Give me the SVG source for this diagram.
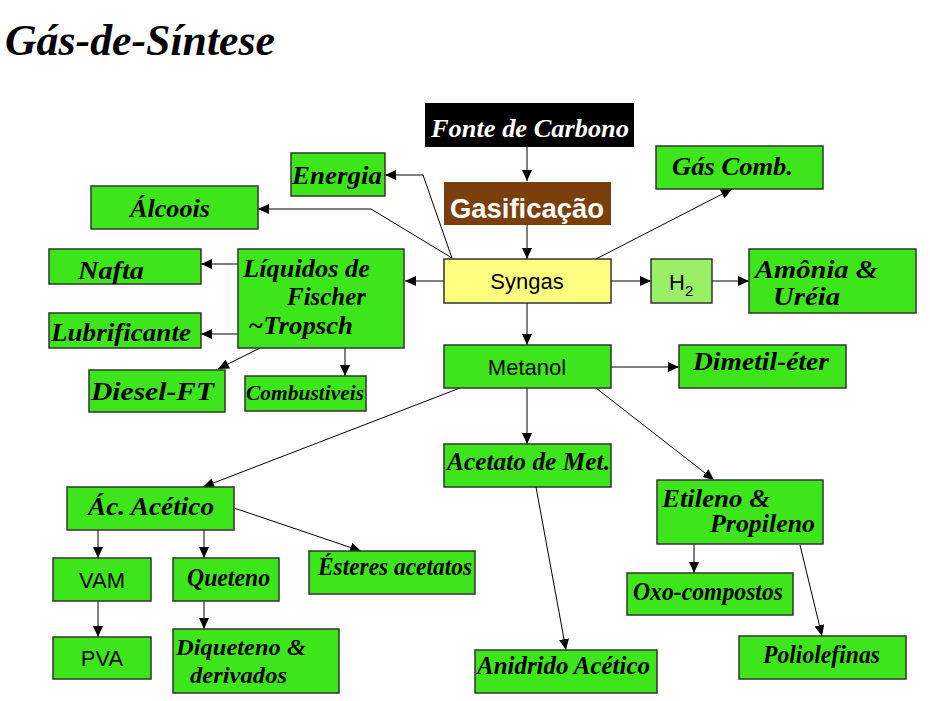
<svg xmlns="http://www.w3.org/2000/svg" width="930" height="701" viewBox="0 0 930 701">
<defs>
<style>
.bx{fill:#3ce61a;stroke:#333;stroke-width:1.5}
.sc{font-family:"Liberation Serif","DejaVu Serif",serif;font-style:italic;font-weight:bold;font-size:26px;fill:#000}
.sn{font-family:"Liberation Sans",Arial,sans-serif;font-size:22px;fill:#000;text-anchor:middle}
.ln{fill:none;stroke:#000;stroke-width:1}
</style>
<marker id="ah" markerUnits="userSpaceOnUse" markerWidth="12" markerHeight="10" refX="11" refY="5" orient="auto">
<path d="M0,0 L11,5 L0,10 Z" fill="#000"/>
</marker>
</defs>
<rect width="930" height="701" fill="#fff"/>
<text x="5" y="55" class="sc" style="font-size:44px" textLength="270" lengthAdjust="spacingAndGlyphs">Gás-de-Síntese</text>

<g id="connectors">
<line class="ln" x1="527" y1="147" x2="527" y2="181" marker-end="url(#ah)"/>
<line class="ln" x1="527" y1="225" x2="527" y2="259" marker-end="url(#ah)"/>
<polyline class="ln" points="452,258 423,175 385,175" marker-end="url(#ah)"/>
<polyline class="ln" points="452,258 371,209 258,209" marker-end="url(#ah)"/>
<line class="ln" x1="444" y1="281" x2="405" y2="281" marker-end="url(#ah)"/>
<line class="ln" x1="596" y1="259" x2="732" y2="189" marker-end="url(#ah)"/>
<line class="ln" x1="611" y1="281" x2="651" y2="281" marker-end="url(#ah)"/>
<line class="ln" x1="712" y1="281" x2="749" y2="281" marker-end="url(#ah)"/>
<line class="ln" x1="527" y1="303" x2="527" y2="345" marker-end="url(#ah)"/>
<line class="ln" x1="238" y1="264" x2="201" y2="264" marker-end="url(#ah)"/>
<line class="ln" x1="238" y1="334" x2="201" y2="334" marker-end="url(#ah)"/>
<line class="ln" x1="260" y1="348" x2="218" y2="369" marker-end="url(#ah)"/>
<line class="ln" x1="345" y1="348" x2="345" y2="376" marker-end="url(#ah)"/>
<line class="ln" x1="611" y1="367" x2="679" y2="367" marker-end="url(#ah)"/>
<line class="ln" x1="460" y1="388" x2="203" y2="487" marker-end="url(#ah)"/>
<line class="ln" x1="527" y1="388" x2="527" y2="444" marker-end="url(#ah)"/>
<line class="ln" x1="596" y1="388" x2="714" y2="480" marker-end="url(#ah)"/>
<line class="ln" x1="536" y1="487" x2="566" y2="650" marker-end="url(#ah)"/>
<line class="ln" x1="694" y1="544" x2="694" y2="573" marker-end="url(#ah)"/>
<line class="ln" x1="800" y1="545" x2="822" y2="636" marker-end="url(#ah)"/>
<line class="ln" x1="98" y1="530" x2="98" y2="558" marker-end="url(#ah)"/>
<line class="ln" x1="204" y1="530" x2="204" y2="558" marker-end="url(#ah)"/>
<line class="ln" x1="234" y1="508" x2="361" y2="551" marker-end="url(#ah)"/>
<line class="ln" x1="98" y1="601" x2="98" y2="637" marker-end="url(#ah)"/>
<line class="ln" x1="204" y1="601" x2="204" y2="629" marker-end="url(#ah)"/>
</g>

<g id="fonte"><rect x="425" y="103" width="209" height="44" fill="#000"/>
<text x="431" y="137" class="sc" style="fill:#fff" textLength="198" lengthAdjust="spacingAndGlyphs">Fonte de Carbono</text></g>
<g id="gasificacao"><rect x="444" y="182" width="167" height="43" fill="#7b3f0c"/>
<text x="450" y="218" style="font-family:'Liberation Sans',Arial,sans-serif;font-weight:bold;font-size:27px;fill:#fff" textLength="154" lengthAdjust="spacingAndGlyphs">Gasificação</text></g>
<g id="energia"><rect class="bx" x="291" y="153" width="94" height="43"/>
<text x="292" y="184" class="sc" textLength="90" lengthAdjust="spacingAndGlyphs">Energia</text></g>
<g id="alcoois"><rect class="bx" x="91" y="186" width="167" height="43"/>
<text x="130" y="217" class="sc" textLength="80" lengthAdjust="spacingAndGlyphs">Álcoois</text></g>
<g id="gascomb"><rect class="bx" x="656" y="146" width="167" height="43"/>
<text x="672" y="175" class="sc" textLength="121" lengthAdjust="spacingAndGlyphs">Gás Comb.</text></g>
<g id="syngas"><rect x="444" y="259" width="167" height="44" fill="#ffff80" stroke="#333" stroke-width="1.5"/>
<text x="527" y="289" class="sn">Syngas</text></g>
<g id="h2"><rect x="651" y="259" width="61" height="44" fill="#99f066" stroke="#333" stroke-width="1.5"/>
<text x="669" y="290" style="font-family:'Liberation Sans',Arial,sans-serif;font-size:22px">H<tspan dy="6" font-size="15">2</tspan></text></g>
<g id="amonia"><rect class="bx" x="749" y="249" width="167" height="64"/>
<text x="755" y="278" class="sc" textLength="123" lengthAdjust="spacingAndGlyphs">Amônia &amp;</text>
<text x="773" y="305" class="sc" textLength="67" lengthAdjust="spacingAndGlyphs">Uréia</text></g>
<g id="nafta"><rect class="bx" x="49" y="249" width="152" height="35"/>
<text x="78" y="279" class="sc" textLength="66" lengthAdjust="spacingAndGlyphs">Nafta</text></g>
<g id="liquidos"><rect class="bx" x="238" y="249" width="166" height="99"/>
<text x="243" y="277" class="sc" textLength="127" lengthAdjust="spacingAndGlyphs">Líquidos de</text>
<text x="287" y="305" class="sc" textLength="79" lengthAdjust="spacingAndGlyphs">Fischer</text>
<text x="248" y="334" class="sc" textLength="105" lengthAdjust="spacingAndGlyphs">~Tropsch</text></g>
<g id="lubrificante"><rect class="bx" x="49" y="313" width="152" height="35"/>
<text x="51" y="341" class="sc" textLength="140" lengthAdjust="spacingAndGlyphs">Lubrificante</text></g>
<g id="diesel"><rect class="bx" x="89" y="370" width="136" height="42"/>
<text x="91" y="400" class="sc" textLength="123" lengthAdjust="spacingAndGlyphs">Diesel-FT</text></g>
<g id="combustiveis"><rect class="bx" x="245" y="376" width="121" height="35"/>
<text x="246" y="400" class="sc" style="font-size:22px" textLength="118" lengthAdjust="spacingAndGlyphs">Combustiveis</text></g>
<g id="metanol"><rect class="bx" x="444" y="345" width="167" height="43"/>
<text x="527" y="375" class="sn">Metanol</text></g>
<g id="dimetil"><rect class="bx" x="679" y="345" width="167" height="43"/>
<text x="693" y="370" class="sc" textLength="136" lengthAdjust="spacingAndGlyphs">Dimetil-éter</text></g>
<g id="acetato"><rect class="bx" x="444" y="444" width="167" height="43"/>
<text x="447" y="470" class="sc" textLength="163" lengthAdjust="spacingAndGlyphs">Acetato de Met.</text></g>
<g id="etileno"><rect class="bx" x="657" y="480" width="166" height="64"/>
<text x="662" y="507" class="sc" textLength="108" lengthAdjust="spacingAndGlyphs">Etileno &amp;</text>
<text x="710" y="532" class="sc" textLength="105" lengthAdjust="spacingAndGlyphs">Propileno</text></g>
<g id="acacetico"><rect class="bx" x="67" y="487" width="167" height="43"/>
<text x="88" y="515" class="sc" textLength="126" lengthAdjust="spacingAndGlyphs">Ác. Acético</text></g>
<g id="vam"><rect class="bx" x="53" y="558" width="98" height="43"/>
<text x="102" y="588" class="sn">VAM</text></g>
<g id="queteno"><rect class="bx" x="173" y="558" width="106" height="43"/>
<text x="187" y="586" class="sc" textLength="83" lengthAdjust="spacingAndGlyphs">Queteno</text></g>
<g id="esteres"><rect class="bx" x="309" y="551" width="166" height="43"/>
<text x="318" y="575" class="sc" textLength="154" lengthAdjust="spacingAndGlyphs">Ésteres acetatos</text></g>
<g id="oxo"><rect class="bx" x="627" y="573" width="166" height="42"/>
<text x="633" y="600" class="sc" textLength="150" lengthAdjust="spacingAndGlyphs">Oxo-compostos</text></g>
<g id="pva"><rect class="bx" x="53" y="637" width="98" height="42"/>
<text x="102" y="666" class="sn">PVA</text></g>
<g id="diqueteno"><rect class="bx" x="173" y="629" width="166" height="64"/>
<text x="176" y="655" class="sc" style="font-size:24px" textLength="130" lengthAdjust="spacingAndGlyphs">Diqueteno &amp;</text>
<text x="190" y="683" class="sc" style="font-size:24px" textLength="97" lengthAdjust="spacingAndGlyphs">derivados</text></g>
<g id="anidrido"><rect class="bx" x="475" y="650" width="182" height="43"/>
<text x="477" y="674" class="sc" textLength="173" lengthAdjust="spacingAndGlyphs">Anidrido Acético</text></g>
<g id="poliolefinas"><rect class="bx" x="739" y="636" width="167" height="43"/>
<text x="763" y="663" class="sc" textLength="117" lengthAdjust="spacingAndGlyphs">Poliolefinas</text></g>
</svg>
